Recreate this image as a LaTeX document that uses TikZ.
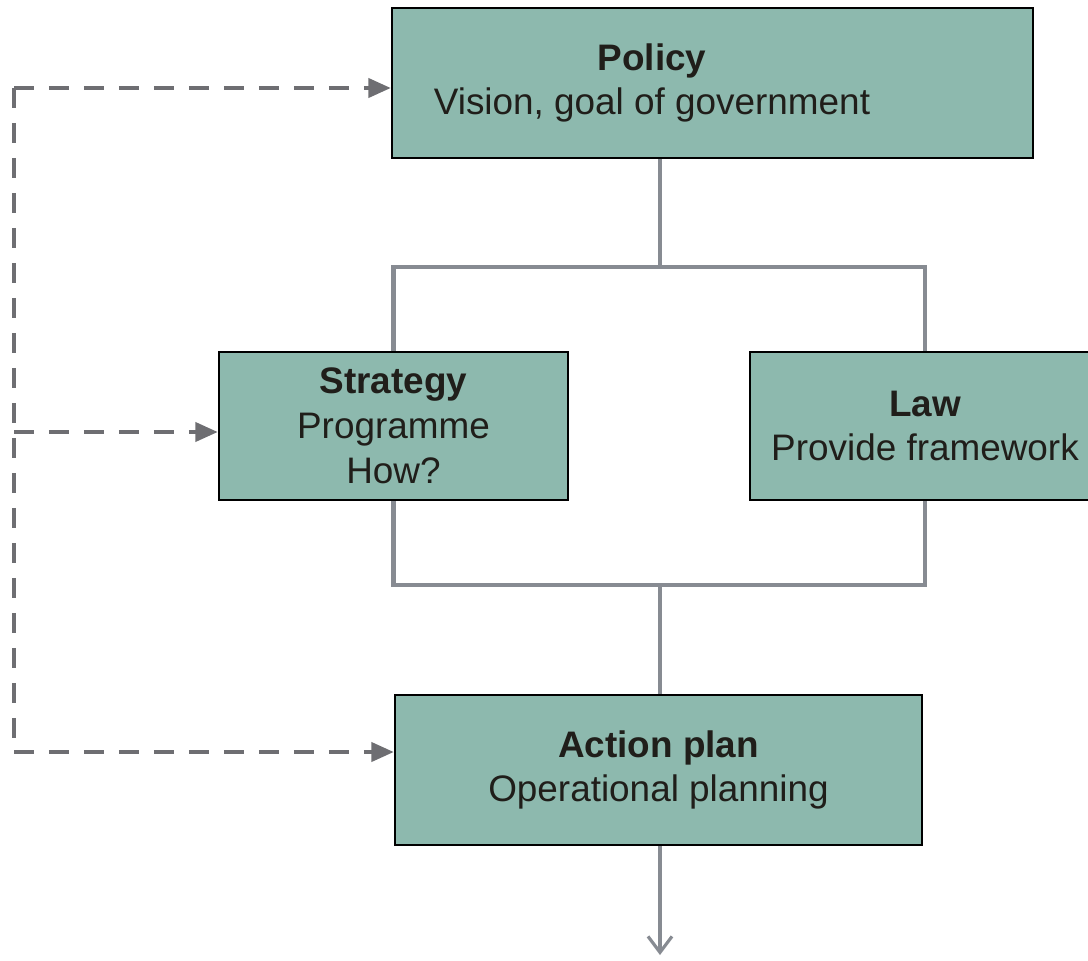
\documentclass[tikz,border=0pt]{standalone}
\usepackage{fontspec}
\setmainfont{Liberation Sans}
\usetikzlibrary{arrows.meta}

\definecolor{boxfill}{RGB}{141,185,174}
\definecolor{linkgray}{RGB}{135,139,146}
\definecolor{dashgray}{RGB}{110,110,114}
\definecolor{inkdark}{RGB}{32,30,26}

\begin{document}
\begin{tikzpicture}[x=0.02cm, y=-0.02cm,
  level/.style={draw=black, line width=1.4pt, fill=boxfill, text=inkdark, align=center,
    font=\fontsize{21}{25.5}\selectfont, inner sep=0pt},
  caption/.style={text=inkdark, align=center, font=\fontsize{21}{25.5}\selectfont, inner sep=0pt},
  link/.style={draw=linkgray, line width=2.8pt},
  thinlink/.style={draw=linkgray, line width=1.8pt},
  feedback/.style={draw=dashgray, line width=2.3pt, dash pattern=on 0.4cm off 0.3cm},
  feedarrow/.style={feedback, -{Triangle[length=0.45cm, width=0.38cm]}}]
\clip (0,0) rectangle (1088,960);
\node[level, minimum width=12.82cm, minimum height=3cm] (policy) at (712.5,83) {};
\node[caption] (policytext) at (652,83) {\textbf{Policy}\\Vision, goal of government};
\node[level, minimum width=6.98cm, minimum height=2.96cm] (strategy) at (393.5,426) {\textbf{Strategy}\\Programme\\How?};
\node[level, minimum width=7cm, minimum height=2.96cm] (law) at (925,426) {\textbf{Law}\\Provide framework};
\node[level, minimum width=10.54cm, minimum height=3cm] (action) at (658.5,770) {\textbf{Action plan}\\Operational planning};
\coordinate (jtop) at (660,267);
\coordinate (jbot) at (660,585);
\coordinate (outlet) at (660,955);
% tree between the levels
\draw[link] (policy.south -| jtop) -- (jtop);
\draw[link] (strategy.north) -- (strategy.north |- jtop) -- (law.north |- jtop) -- (law.north);
\draw[link] (strategy.south) -- (strategy.south |- jbot) -- (law.south |- jbot) -- (law.south);
\draw[thinlink] (jbot) -- (action.north -| jbot);
\draw[thinlink, -{Straight Barb[length=0.32cm, width=0.48cm, line width=1.8pt]}] (action.south -| outlet) -- (outlet);
% feedback rail
\coordinate (railtop) at (14,88);
\coordinate (railmid) at (14,432);
\coordinate (railbot) at (14,752);
\draw[feedback] (railtop) -- (railbot);
\foreach \y/\target in {railtop/policy, railmid/strategy, railbot/action}
  \draw[feedarrow] (\y) -- (\y -| \target.west);
\end{tikzpicture}
\end{document}
